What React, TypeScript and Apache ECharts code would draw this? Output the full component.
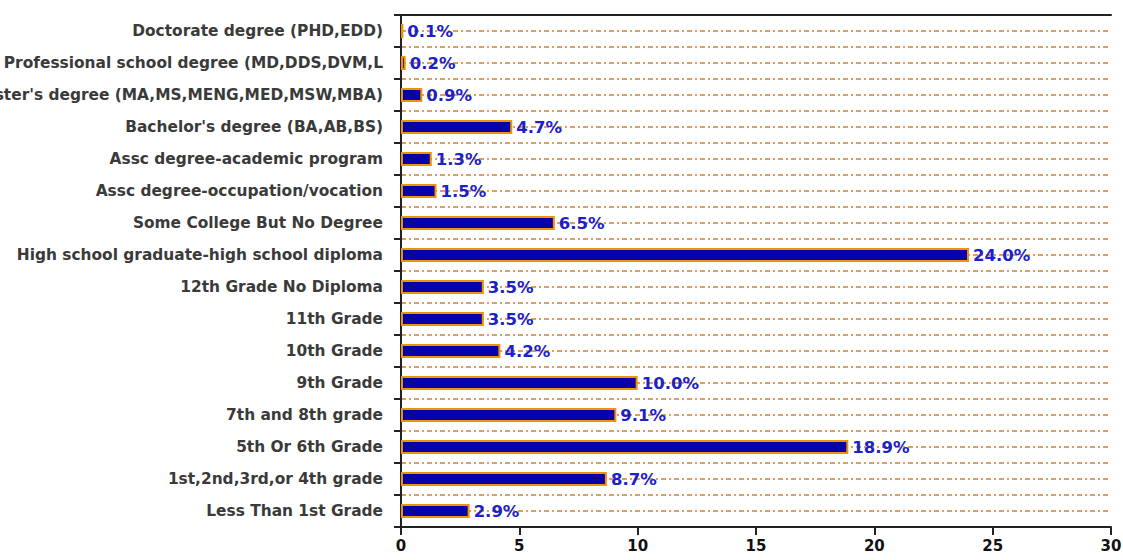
import React, { useEffect, useRef } from "react";
import * as echarts from "echarts";

const categories = [
  "Less Than 1st Grade",
  "1st,2nd,3rd,or 4th grade",
  "5th Or 6th Grade",
  "7th and 8th grade",
  "9th Grade",
  "10th Grade",
  "11th Grade",
  "12th Grade No Diploma",
  "High school graduate-high school diploma",
  "Some College But No Degree",
  "Assc degree-occupation/vocation",
  "Assc degree-academic program",
  "Bachelor's degree (BA,AB,BS)",
  "Master's degree (MA,MS,MENG,MED,MSW,MBA)",
  "Professional school degree (MD,DDS,DVM,L",
  "Doctorate degree (PHD,EDD)",
];
const values = [2.9, 8.7, 18.9, 9.1, 10.0, 4.2, 3.5, 3.5, 24.0, 6.5, 1.5, 1.3, 4.7, 0.9, 0.2, 0.1];
const xTicks = [0, 5, 10, 15, 20, 25, 30];

export default function App() {
  const ref = useRef<HTMLDivElement>(null);
  useEffect(() => {
    if (!ref.current) return;
    const chart = echarts.init(ref.current, null, { renderer: "svg" });
    const font = "'DejaVu Sans', Arial, sans-serif";
    const frame = { color: "#222", width: 2 };
    chart.setOption({
      animation: false,
      grid: {
        left: 401,
        right: 12,
        top: 15,
        bottom: 33,
        containLabel: false,
        outerBoundsMode: "none",
      },
      xAxis: [
        {
          type: "value",
          min: xTicks[0],
          max: xTicks[xTicks.length - 1],
          interval: 5,
          axisLine: { show: true, lineStyle: frame },
          axisTick: { show: true, length: 8, lineStyle: frame },
          axisLabel: { color: "#111", fontSize: 15, fontWeight: "bold", fontFamily: font, margin: 11 },
          splitLine: { show: false },
        },
        {
          type: "value",
          position: "top",
          min: xTicks[0],
          max: xTicks[xTicks.length - 1],
          interval: 5,
          axisLine: { show: true, lineStyle: frame },
          axisTick: { show: false },
          axisLabel: { show: false },
          splitLine: { show: false },
        },
      ],
      yAxis: [
        {
          type: "category",
          data: categories,
          boundaryGap: true,
          axisLine: { show: true, lineStyle: frame },
          axisTick: { show: true, length: 7, lineStyle: frame },
          axisLabel: { color: "#3a3a3a", fontSize: 15.4, fontWeight: "bold", fontFamily: font, margin: 18 },
          splitLine: { show: false },
        },
        {
          type: "value",
          min: 0,
          max: categories.length * 2,
          interval: 1,
          position: "right",
          axisLine: { show: true, lineStyle: frame },
          axisTick: { show: false },
          axisLabel: { show: false },
          splitLine: {
            show: true,
            lineStyle: { color: "#d08030", width: 1.5, type: [5, 3, 2, 3] },
          },
        },
      ],
      series: [
        {
          type: "bar",
          xAxisIndex: 0,
          yAxisIndex: 0,
          data: values,
          barWidth: 14,
          itemStyle: { color: "#0a00a8", borderColor: "#f39200", borderWidth: 2 },
          label: {
            show: true,
            position: "right",
            distance: 4,
            formatter: (p: any) => p.value.toFixed(1) + "%",
            color: "#2020c8",
            fontSize: 16.5,
            fontWeight: "bold",
            fontFamily: font,
          },
          z: 3,
        },
      ],
    });
    return () => chart.dispose();
  }, []);
  return (
    <div
      ref={ref}
      style={{ position: "fixed", left: 0, top: 0, width: 1123, height: 560, background: "#fff" }}
    />
  );
}
